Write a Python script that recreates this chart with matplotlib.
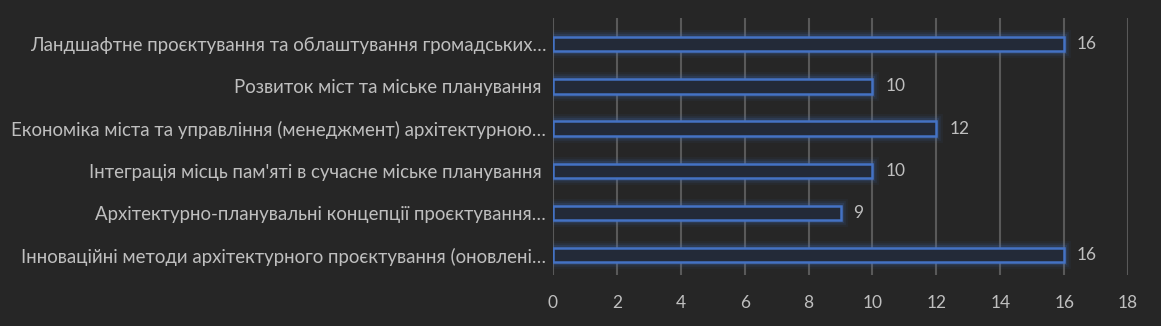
import matplotlib
matplotlib.use('Agg')
import matplotlib.pyplot as plt

categories = [
    'Ландшафтне проєктування та облаштування громадських…',
    'Розвиток міст та міське планування ',
    'Економіка міста та управління (менеджмент) архітектурною…',
    "Інтеграція місць пам'яті в сучасне міське планування ",
    'Архітектурно-планувальні концепції проєктування…',
    'Інноваційні методи архітектурного проєктування (оновлені…',
]
values = [16, 10, 12, 10, 9, 16]
xticks = [0, 2, 4, 6, 8, 10, 12, 14, 16, 18]

bg = '#262626'
txt = '#bfbfbf'
blue = '#4472c4'

plt.rcParams['font.family'] = ['Lato', 'DejaVu Sans']

fig = plt.figure(figsize=(11.61, 3.26), dpi=100, facecolor=bg)
ax = fig.add_axes([0.4763, 0.156, 0.4953, 0.789], facecolor=bg)

y = list(range(len(categories)))
h = 0.34

# glow around the bars
for lw, a in [(10, 0.06), (7, 0.10), (4.5, 0.16)]:
    ax.barh(y, values, height=h, color='none', edgecolor=blue, linewidth=lw, alpha=a, zorder=2)
ax.barh(y, values, height=h, color='#232a38', edgecolor=blue, linewidth=1.8, zorder=3)

for yi, v in zip(y, values):
    ax.text(v + 0.4, yi, str(v), va='center', ha='left', color=txt, fontsize=12.5, zorder=4)

ax.set_xlim(0, 18)
ax.set_ylim(5.47, -0.62)
ax.set_xticks(xticks)
ax.set_yticks(y)
ax.set_yticklabels(categories, fontsize=13.4)
ax.xaxis.grid(True, color='#595959', linewidth=1.5, zorder=0)
ax.set_axisbelow(True)
ax.tick_params(axis='both', length=0, colors=txt)
ax.tick_params(axis='x', pad=14, labelsize=12.5)
ax.tick_params(axis='y', pad=5)
for s in ax.spines.values():
    s.set_visible(False)

fig.savefig('out.png', dpi=100, facecolor=bg)
